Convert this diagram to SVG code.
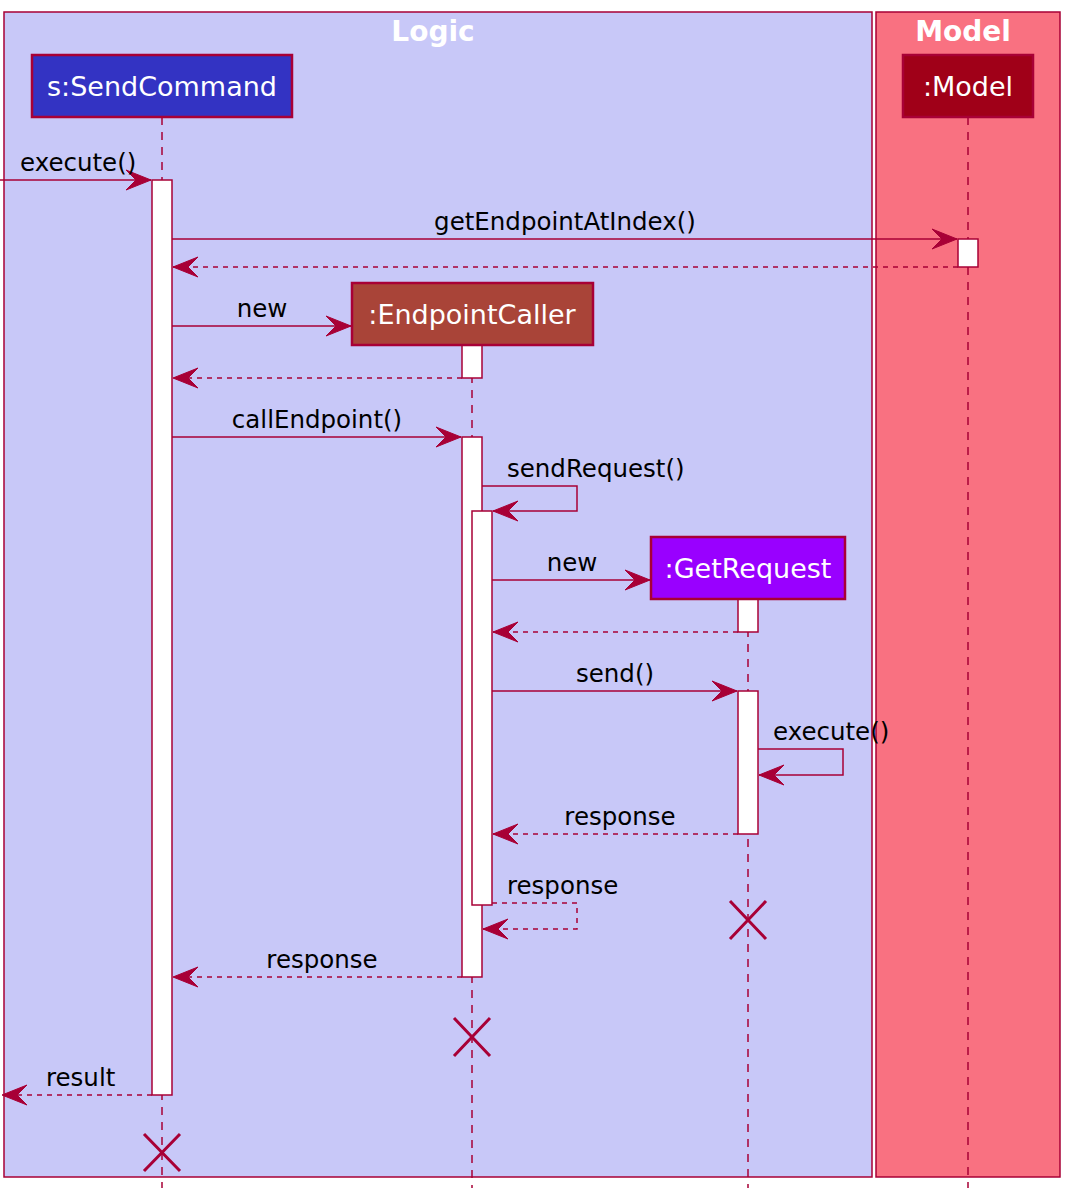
<svg xmlns="http://www.w3.org/2000/svg" width="1070" height="1201" viewBox="0 0 1070 1201">
<style>
.frame{stroke:#A80036;stroke-width:1.5}
.title{font-family:"DejaVu Sans",sans-serif;font-weight:bold;font-size:28px;fill:#FFFFFF;text-anchor:middle}
.pbox{stroke:#A80036;stroke-width:2.5}
.ptext{font-family:"DejaVu Sans",sans-serif;font-size:27px;fill:#FFFFFF;text-anchor:middle}
.life{stroke:#A80036;stroke-width:1.5;stroke-dasharray:8,7;fill:none}
.act{fill:#FFFFFF;stroke:#A80036;stroke-width:1.5}
.msg{stroke:#A80036;stroke-width:1.5;fill:none;marker-end:url(#arr)}
.ret{stroke:#A80036;stroke-width:1.5;fill:none;stroke-dasharray:5,5;marker-end:url(#arr)}
.lbl{font-family:"DejaVu Sans",sans-serif;font-size:24.5px;fill:#000000}
.x{stroke:#A80036;stroke-width:3}
</style>
<defs>
<marker id="arr" markerUnits="userSpaceOnUse" orient="auto" refX="0" refY="0" markerWidth="30" markerHeight="24" viewBox="-26 -12 30 24" overflow="visible">
<path d="M0,0 L-25,-10 L-15,0 L-25,10 Z" fill="#A80036" stroke="#A80036" stroke-width="1"/>
</marker>
</defs>
<rect width="1070" height="1201" fill="#FFFFFF"/>
<g id="frame-logic">
<rect class="frame" x="4" y="12" width="868" height="1165" fill="#C8C8F8"/>
<text class="title" x="433" y="41">Logic</text>
</g>
<g id="frame-model">
<rect class="frame" x="876" y="12" width="184" height="1165" fill="#F97181"/>
<text class="title" x="963" y="41">Model</text>
</g>
<g id="lifelines">
<line class="life" x1="162" y1="117" x2="162" y2="1188"/>
<line class="life" x1="968" y1="117" x2="968" y2="1188"/>
<line class="life" x1="472" y1="345" x2="472" y2="1188"/>
<line class="life" x1="748" y1="599" x2="748" y2="1188"/>
</g>
<g id="activations">
<rect class="act" x="152" y="180" width="20" height="915"/>
<rect class="act" x="958" y="239" width="20" height="28"/>
<rect class="act" x="462" y="345" width="20" height="33"/>
<rect class="act" x="462" y="437" width="20" height="540"/>
<rect class="act" x="472" y="511" width="20" height="394"/>
<rect class="act" x="738" y="599" width="20" height="33"/>
<rect class="act" x="738" y="691" width="20" height="143"/>
</g>
<g id="sendcommand">
<rect class="pbox" x="32" y="55" width="260" height="62" fill="#3333C3"/>
<text class="ptext" x="162" y="96">s:SendCommand</text>
</g>
<g id="model">
<rect class="pbox" x="903" y="55" width="130" height="62" fill="#A00018"/>
<text class="ptext" x="968" y="96">:Model</text>
</g>
<g id="endpointcaller">
<rect class="pbox" x="352" y="283" width="241" height="62" fill="#A94438"/>
<text class="ptext" x="472" y="324">:EndpointCaller</text>
</g>
<g id="getrequest">
<rect class="pbox" x="651" y="537" width="194" height="62" fill="#9900FF"/>
<text class="ptext" x="748" y="578">:GetRequest</text>
</g>
<g id="connectors">
<line class="msg" x1="0" y1="180" x2="151" y2="180"/>
<text class="lbl" x="20" y="171">execute()</text>
<line class="msg" x1="172" y1="239" x2="957" y2="239"/>
<text class="lbl" x="565" y="230" text-anchor="middle">getEndpointAtIndex()</text>
<line class="ret" x1="958" y1="267" x2="173" y2="267"/>
<line class="msg" x1="172" y1="326" x2="351" y2="326"/>
<text class="lbl" x="262" y="317" text-anchor="middle">new</text>
<line class="ret" x1="462" y1="378" x2="173" y2="378"/>
<line class="msg" x1="172" y1="437" x2="461" y2="437"/>
<text class="lbl" x="317" y="428" text-anchor="middle">callEndpoint()</text>
<polyline class="msg" points="482,486 577,486 577,511 493,511"/>
<text class="lbl" x="507" y="477">sendRequest()</text>
<line class="msg" x1="492" y1="580" x2="650" y2="580"/>
<text class="lbl" x="572" y="571" text-anchor="middle">new</text>
<line class="ret" x1="738" y1="632" x2="493" y2="632"/>
<line class="msg" x1="492" y1="691" x2="737" y2="691"/>
<text class="lbl" x="615" y="682" text-anchor="middle">send()</text>
<polyline class="msg" points="758,749 843,749 843,775 759,775"/>
<text class="lbl" x="773" y="740">execute()</text>
<line class="ret" x1="738" y1="834" x2="493" y2="834"/>
<text class="lbl" x="620" y="825" text-anchor="middle">response</text>
<polyline class="ret" points="492,903 577,903 577,929 483,929"/>
<text class="lbl" x="507" y="894">response</text>
<line class="ret" x1="462" y1="977" x2="173" y2="977"/>
<text class="lbl" x="322" y="968" text-anchor="middle">response</text>
<line class="ret" x1="152" y1="1095" x2="2" y2="1095"/>
<text class="lbl" x="46" y="1086">result</text>
</g>
<g id="destroy-marks">
<path class="x" d="M730,901 L766,939 M766,901 L730,939"/>
<path class="x" d="M454,1018 L490,1056 M490,1018 L454,1056"/>
<path class="x" d="M144,1134 L180,1171 M180,1134 L144,1171"/>
</g>
</svg>
